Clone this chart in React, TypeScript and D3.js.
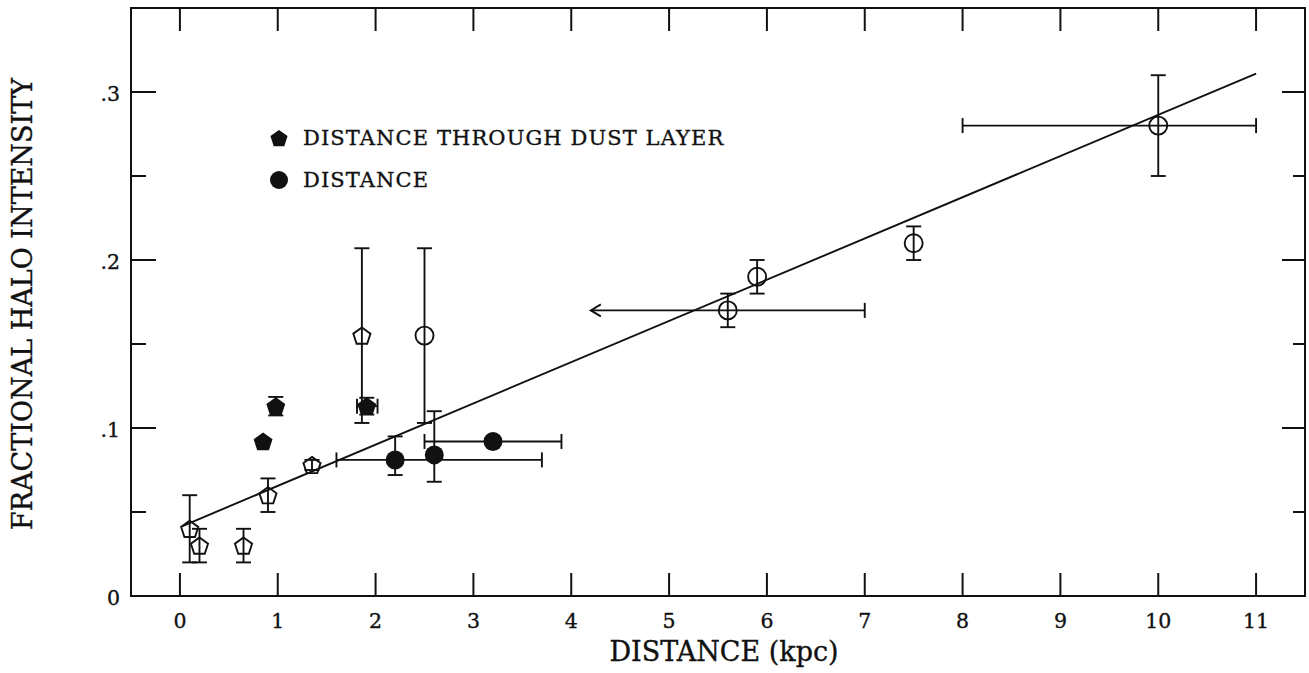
import React from "react";
import * as d3 from "d3";

// Open pentagons: [x, y, yLow, yHigh]
const openPentagons: number[][] = [
  [0.1, 0.04, 0.02, 0.06],
  [0.2, 0.03, 0.02, 0.04],
  [0.65, 0.03, 0.02, 0.04],
  [0.9, 0.06, 0.05, 0.07],
  [1.35, 0.078, 0.075, 0.081],
  [1.86, 0.155, 0.103, 0.207],
];

// Filled pentagons (distance through dust layer): [x, y, yLow, yHigh, xLow, xHigh]
const filledPentagons: (number | null)[][] = [
  [0.85, 0.092, null, null, null, null],
  [0.98, 0.113, 0.1075, 0.1185, null, null],
  [1.91, 0.113, 0.108, 0.118, 1.81, 2.02],
];

// Open circles: [x, y, yLow, yHigh, xLow, xHigh]
const openCircles: (number | null)[][] = [
  [2.5, 0.155, 0.103, 0.207, null, null],
  [5.6, 0.17, 0.16, 0.18, 4.2, 7.0],
  [5.9, 0.19, 0.18, 0.2, null, null],
  [7.5, 0.21, 0.2, 0.22, null, null],
  [10, 0.28, 0.25, 0.31, 8, 11],
];

// Filled circles (distance): [x, y, yLow, yHigh, xLow, xHigh]
const filledCircles: (number | null)[][] = [
  [2.2, 0.081, 0.072, 0.095, 1.6, 3.7],
  [2.6, 0.084, 0.068, 0.11, null, null],
  [3.2, 0.092, null, null, 2.5, 3.9],
];

// Lower x bounds that are upper limits (drawn as an arrow)
const arrowLimits: number[] = [4.2];

// Linear fit
const fitLine: [number, number][] = [
  [0.02, 0.0415],
  [11, 0.311],
];

const xTicks: number[] = [0, 1, 2, 3, 4, 5, 6, 7, 8, 9, 10, 11];
const yMajorTicks: number[] = [0, 0.1, 0.2, 0.3];
const yMinorTicks: number[] = [0.05, 0.15, 0.25];
const yTickLabels: string[] = ["0", ".1", ".2", ".3"];

const legendItems: { shape: string; label: string }[] = [
  { shape: "pentagon", label: "DISTANCE THROUGH DUST LAYER" },
  { shape: "circle", label: "DISTANCE" },
];

const W = 1309;
const H = 673;
const M = { left: 131, right: 1305, top: 8, bottom: 596 };
const FONT = "'DejaVu Serif', 'Liberation Serif', serif";

const x = d3.scaleLinear().domain([-0.5, 11.5]).range([M.left, M.right]);
const y = d3.scaleLinear().domain([0, 0.35]).range([M.bottom, M.top]);

function pentagonPath(cx: number, cy: number, r: number): string {
  const pts: [number, number][] = d3.range(5).map((i) => {
    const a = -Math.PI / 2 + (i * 2 * Math.PI) / 5;
    return [cx + r * Math.cos(a), cy + r * Math.sin(a) + r * 0.1];
  });
  return (d3.line()(pts) as string) + "Z";
}

const STROKE = "#111";
const CAP = 7.5;
const TEXT_STROKE = 0.35;

function ErrorBars({ d }: { d: (number | null)[] }) {
  const [px, py, yl, yh, xl, xh] = d;
  const cx = x(px as number);
  const cy = y(py as number);
  const els: React.ReactNode[] = [];
  if (yl != null && yh != null) {
    els.push(
      <line key="v" x1={cx} x2={cx} y1={y(yl)} y2={y(yh)} />,
      <line key="vl" x1={cx - CAP} x2={cx + CAP} y1={y(yl)} y2={y(yl)} />,
      <line key="vh" x1={cx - CAP} x2={cx + CAP} y1={y(yh)} y2={y(yh)} />
    );
  }
  if (xl != null && xh != null) {
    els.push(<line key="h" x1={x(xl)} x2={x(xh)} y1={cy} y2={cy} />);
    if (arrowLimits.includes(xl)) {
      const ax = x(xl);
      els.push(
        <path key="ha" d={`M${ax + 10},${cy - 6}L${ax},${cy}L${ax + 10},${cy + 6}`} fill="none" />
      );
    } else {
      els.push(<line key="hl" x1={x(xl)} x2={x(xl)} y1={cy - CAP} y2={cy + CAP} />);
    }
    els.push(<line key="hh" x1={x(xh)} x2={x(xh)} y1={cy - CAP} y2={cy + CAP} />);
  }
  return (
    <g stroke={STROKE} strokeWidth={1.9} fill="none">
      {els}
    </g>
  );
}

export default function App() {
  const fit = d3
    .line<[number, number]>()
    .x((d) => x(d[0]))
    .y((d) => y(d[1]));

  return (
    <svg
      width={W}
      height={H}
      style={{ position: "absolute", left: 0, top: 0, background: "#fff" }}
      fontFamily={FONT}
    >
      <rect x={0} y={0} width={W} height={H} fill="#fff" />

      {/* frame */}
      <rect
        x={M.left}
        y={M.top}
        width={M.right - M.left}
        height={M.bottom - M.top}
        fill="none"
        stroke={STROKE}
        strokeWidth={2}
      />

      {/* ticks on all four sides */}
      <g stroke={STROKE} strokeWidth={2}>
        {xTicks.map((t) => (
          <g key={t}>
            <line x1={x(t)} x2={x(t)} y1={M.bottom} y2={M.bottom - 23} />
            <line x1={x(t)} x2={x(t)} y1={M.top} y2={M.top + 23} />
          </g>
        ))}
        {yMajorTicks
          .filter((t) => t > 0)
          .map((t) => (
            <g key={t}>
              <line x1={M.left} x2={M.left + 25} y1={y(t)} y2={y(t)} />
              <line x1={M.right} x2={M.right - 23} y1={y(t)} y2={y(t)} />
            </g>
          ))}
        {yMinorTicks.map((t) => (
          <g key={t}>
            <line x1={M.left} x2={M.left + 15} y1={y(t)} y2={y(t)} />
            <line x1={M.right} x2={M.right - 12} y1={y(t)} y2={y(t)} />
          </g>
        ))}
      </g>

      {/* tick labels */}
      <g fontSize={20.5} fill={STROKE} stroke={STROKE} strokeWidth={TEXT_STROKE}>
        {xTicks.map((t) => (
          <text key={t} x={x(t)} y={628} textAnchor="middle">
            {t}
          </text>
        ))}
        {yMajorTicks.map((t, i) => (
          <text key={t} x={120} y={y(t) + 8.5} textAnchor="end">
            {yTickLabels[i]}
          </text>
        ))}
      </g>

      {/* axis titles */}
      <text
        x={724}
        y={661}
        textAnchor="middle"
        fontSize={27}
        fill={STROKE}
        stroke={STROKE}
        strokeWidth={TEXT_STROKE}
      >
        DISTANCE (kpc)
      </text>
      <text
        transform={`translate(32,304) rotate(-90)`}
        textAnchor="middle"
        fontSize={27}
        fill={STROKE}
        stroke={STROKE}
        strokeWidth={TEXT_STROKE}
      >
        FRACTIONAL HALO INTENSITY
      </text>

      {/* fit line */}
      <path d={fit(fitLine) as string} fill="none" stroke={STROKE} strokeWidth={1.9} />

      {/* error bars */}
      {[...openPentagons, ...filledPentagons, ...openCircles, ...filledCircles].map((d, i) => (
        <ErrorBars key={i} d={d} />
      ))}

      {/* markers */}
      {openPentagons.map((d, i) => (
        <path key={"op" + i} d={pentagonPath(x(d[0]), y(d[1]), 9)} fill="none" stroke={STROKE} strokeWidth={1.9} />
      ))}
      {filledPentagons.map((d, i) => (
        <path key={"fp" + i} d={pentagonPath(x(d[0] as number), y(d[1] as number), 9)} fill={STROKE} stroke={STROKE} strokeWidth={1.5} />
      ))}
      {openCircles.map((d, i) => (
        <circle key={"oc" + i} cx={x(d[0] as number)} cy={y(d[1] as number)} r={9} fill="none" stroke={STROKE} strokeWidth={1.9} />
      ))}
      {filledCircles.map((d, i) => (
        <circle key={"fc" + i} cx={x(d[0] as number)} cy={y(d[1] as number)} r={9.5} fill={STROKE} />
      ))}

      {/* legend */}
      {legendItems.map((item, i) => {
        const ly = 138 + i * 42;
        return (
          <g key={item.label}>
            {item.shape === "pentagon" ? (
              <path d={pentagonPath(279, ly, 9)} fill={STROKE} />
            ) : (
              <circle cx={279} cy={ly} r={9} fill={STROKE} />
            )}
            <text
              x={303}
              y={ly + 7}
              fontSize={21}
              letterSpacing={1.1}
              fill={STROKE}
              stroke={STROKE}
              strokeWidth={TEXT_STROKE}
            >
              {item.label}
            </text>
          </g>
        );
      })}
    </svg>
  );
}
